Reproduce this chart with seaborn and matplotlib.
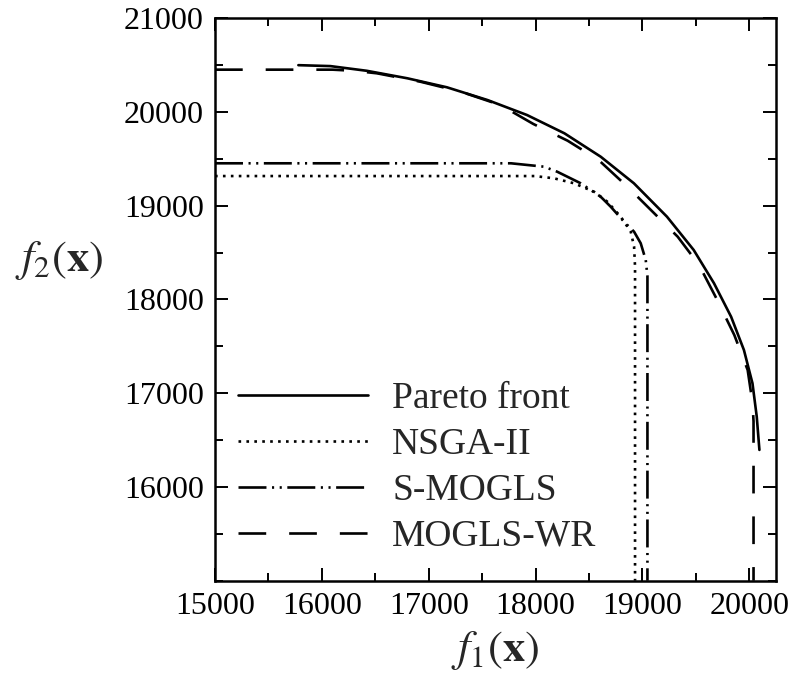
import numpy as np
import pandas as pd
import matplotlib
matplotlib.use('Agg')
import matplotlib.pyplot as plt
import seaborn as sns
from matplotlib.ticker import MultipleLocator

# values
pareto_x = [15780, 16080, 16420, 16800, 17170, 17550, 17920, 18270, 18610, 18920,
            19230, 19480, 19670, 19830, 19950, 20030, 20070, 20095]
pareto_y = [20500, 20490, 20440, 20360, 20264, 20128, 19968, 19773, 19523, 19240,
            18883, 18528, 18173, 17816, 17461, 17106, 16750, 16395]

nsga_x = [15000, 17990, 18172, 18359, 18547, 18672, 18797, 18891, 18922, 18931, 18931]
nsga_y = [19317, 19317, 19293, 19240, 19150, 19043, 18883, 18723, 18563, 18350, 15000]

smogls_x = [15000, 17770, 18078, 18203, 18422, 18609, 18703, 18828, 18922, 18984,
            19031, 19047, 19047]
smogls_y = [19453, 19453, 19417, 19363, 19240, 19097, 18990, 18830, 18723, 18600,
            18422, 18250, 15000]

wr_x = [15000, 16100, 16300, 16516, 16920, 17300, 17670, 17980, 18300, 18590,
        18860, 19110, 19330, 19530, 19700, 19860, 19985, 20030, 20040, 20040]
wr_y = [20452, 20452, 20440, 20413, 20324, 20217, 20075, 19872, 19694, 19488,
        19203, 18920, 18670, 18368, 17995, 17621, 17248, 16900, 16700, 15000]

labels = ['Pareto front', 'NSGA-II', 'S-MOGLS', 'MOGLS-WR']
xticks = [15000, 16000, 17000, 18000, 19000, 20000]
yticks = [16000, 17000, 18000, 19000, 20000, 21000]

sns.set_style('ticks')
plt.rcParams['font.family'] = ['Liberation Serif', 'DejaVu Serif']
plt.rcParams['mathtext.fontset'] = 'stix'

fig = plt.figure(figsize=(7.94, 6.88), dpi=100)
ax = fig.add_axes([0.2708, 0.156, 0.7065, 0.8174])

lw = 1.9
series = [
    (pareto_x, pareto_y, '-'),
    (nsga_x, nsga_y, (0, (1, 2))),
    (smogls_x, smogls_y, (0, (10.6, 2.1, 0.8, 2.1, 0.8, 2.1))),
    (wr_x, wr_y, (0, (10.5, 8.7))),
]
for (xs, ys, ls), lab in zip(series, labels):
    df = pd.DataFrame({'x': xs, 'y': ys})
    sns.lineplot(data=df, x='x', y='y', ax=ax, estimator=None, sort=False,
                 color='black', linewidth=lw, linestyle=ls, label=lab)

ax.set_xlim(15000, 20250)
ax.set_ylim(15000, 21000)
ax.set_xticks(xticks)
ax.set_yticks(yticks)
ax.xaxis.set_minor_locator(MultipleLocator(500))
ax.yaxis.set_minor_locator(MultipleLocator(500))
ax.tick_params(which='both', direction='in', top=True, right=True, width=1.4,
               colors='black', labelsize=23)
ax.tick_params(which='major', length=9.5, pad=8)
ax.tick_params(which='minor', length=6)
for sp in ax.spines.values():
    sp.set_linewidth(1.8)
    sp.set_color('black')

ax.set_xlabel(r'$f_1(\mathbf{x})$', fontsize=32)
ax.set_ylabel(r'$f_2(\mathbf{x})$', fontsize=32, rotation=0)
ax.xaxis.set_label_coords(0.5, -0.125)
ax.yaxis.set_label_coords(-0.278, 0.57)
ax.xaxis.label.set_va('center')
ax.yaxis.label.set_va('center')
ax.yaxis.label.set_ha('center')

ax.legend(loc='lower left', bbox_to_anchor=(0.041, 0.048), frameon=False,
          fontsize=27, handlelength=3.47, handletextpad=0.64, labelspacing=0.3,
          borderpad=0, borderaxespad=0)

fig.savefig('out.png', dpi=100)
